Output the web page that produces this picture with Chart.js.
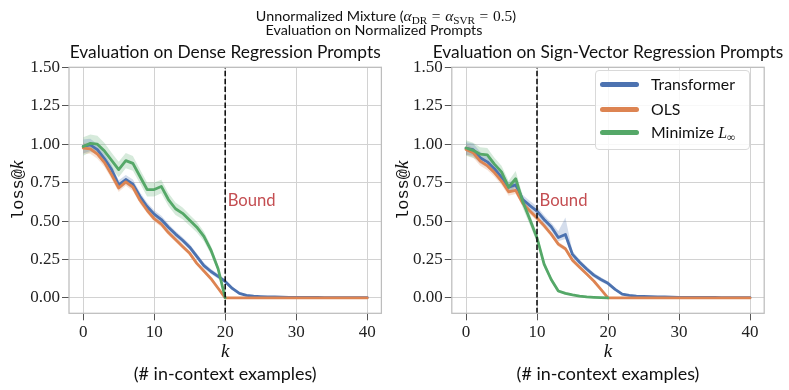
<!DOCTYPE html>
<html>
<head>
<meta charset="utf-8">
<script src="https://cdn.jsdelivr.net/npm/chart.js@4.4.1/dist/chart.umd.min.js"></script>
<style>
  html, body { margin:0; padding:0; background:#ffffff; }
  #wrap { position:relative; width:789px; height:390px; overflow:hidden; background:#fff; }
  canvas { position:absolute; top:0; }
  #c1 { left:0; }
  #c2 { left:394px; }
  .sup { position:absolute; left:0; top:0; white-space:nowrap; font-family:Lato, "DejaVu Sans", sans-serif; color:#111; line-height:1.2; }
  .mi { font-family:"Liberation Serif", serif; font-style:italic; }
  .mr { font-family:"Liberation Serif", serif; }
  .eq { font-family:"Liberation Serif", serif; margin:0 0.3em; }
  sub { font-size:0.72em; vertical-align:-0.28em; line-height:0; }
  .bl { display:inline-block; width:0; height:0; vertical-align:baseline; }
  #legend { position:absolute; left:595px; top:70px; width:155px; height:80px; border:1px solid #d9d9d9; border-radius:4px; background:rgba(255,255,255,0.85); box-sizing:border-box; }
  .sw { position:absolute; left:4px; width:39px; height:5px; border-radius:2.5px; }
  .lt { position:absolute; left:55px; white-space:nowrap; color:#111; font-family:Lato, "DejaVu Sans", sans-serif; line-height:1; }
</style>
</head>
<body>
<div id="wrap">
  <canvas id="c1" width="394" height="390"></canvas>
  <canvas id="c2" width="395" height="390"></canvas>
  <div class="sup" id="sup1">Unnormalized Mixture (<span id="supMath"><span class="mi">α</span><sub class="mr">DR</sub><span class="eq">=</span><span class="mi">α</span><sub class="mr">SVR</sub><span class="eq">=</span><span class="mr">0.5</span></span>)<span class="bl"></span></div>
  <div class="sup" id="sup2">Evaluation on Normalized Prompts<span class="bl"></span></div>
  <div id="legend"></div>
</div>
<script>
// ---------------- data ----------------
const K = [0,1,2,3,4,5,6,7,8,9,10,11,12,13,14,15,16,17,18,19,20,21,22,23,24,25,26,27,28,29,30,31,32,33,34,35,36,37,38,39,40];
const K_MIN = [0,1,2,3,4,5,6,7,8,9,10,11,12,13,14,15,16,17,18,19,20];
const xTicks = [0, 10, 20, 30, 40];
const yTicks = [0, 0.25, 0.5, 0.75, 1.0, 1.25, 1.5];
const seriesNames = ['Transformer', 'OLS', 'Minimize L∞'];

// Dense regression prompts
const denseTransformer = [0.985,0.995,0.965,0.905,0.835,0.735,0.77,0.74,0.66,0.595,
  0.545,0.51,0.46,0.415,0.375,0.33,0.27,0.21,0.172,0.14,
  0.107,0.062,0.03,0.017,0.012,0.009,0.007,0.006,0.005,0.004,
  0.004,0.003,0.003,0.003,0.002,0.002,0.002,0.002,0.002,0.002,0.002];
const denseTransformerErr = [0.045,0.04,0.035,0.032,0.03,0.03,0.03,0.03,0.028,0.026,
  0.025,0.024,0.022,0.021,0.02,0.02,0.019,0.018,0.016,0.015,
  0.014,0.012,0.008,0.005,0.004,0.003,0.002,0.002,0.002,0.001,
  0.001,0.001,0.001,0.001,0.001,0.001,0.001,0.001,0.001,0.001,0.001];
const denseOLS = [0.975,0.97,0.935,0.88,0.8,0.715,0.755,0.72,0.635,0.57,
  0.515,0.48,0.425,0.38,0.335,0.29,0.225,0.175,0.125,0.063,
  0,0,0,0,0,0,0,0,0,0,0,0,0,0,0,0,0,0,0,0,0];
const denseOLSErr = [0.035,0.032,0.03,0.028,0.027,0.026,0.025,0.024,0.022,0.02,
  0.019,0.018,0.017,0.016,0.015,0.014,0.012,0.01,0.008,0.006,
  0,0,0,0,0,0,0,0,0,0,0,0,0,0,0,0,0,0,0,0,0];
const denseMinLinf = [0.985,1.005,1.0,0.955,0.895,0.835,0.893,0.875,0.79,0.705,
  0.705,0.725,0.64,0.58,0.55,0.505,0.46,0.40,0.31,0.19,0.0];
const denseMinLinfErr = [0.06,0.058,0.055,0.052,0.05,0.05,0.05,0.048,0.046,0.045,
  0.045,0.044,0.042,0.04,0.038,0.036,0.035,0.032,0.028,0.02,0];
const denseBound = 20;

// Sign-vector regression prompts
const signTransformer = [0.972,0.965,0.912,0.885,0.84,0.785,0.72,0.735,0.64,0.6,
  0.565,0.51,0.463,0.393,0.413,0.283,0.232,0.188,0.148,0.12,
  0.095,0.056,0.025,0.016,0.012,0.01,0.008,0.007,0.006,0.005,
  0.004,0.004,0.003,0.003,0.003,0.003,0.002,0.002,0.002,0.002,0.002];
const signTransformerErrDown = [0.04,0.04,0.038,0.036,0.035,0.034,0.033,0.032,0.03,0.03,
  0.03,0.028,0.026,0.025,0.03,0.02,0.018,0.016,0.015,0.014,
  0.012,0.01,0.007,0.005,0.004,0.003,0.002,0.002,0.002,0.001,
  0.001,0.001,0.001,0.001,0.001,0.001,0.001,0.001,0.001,0.001,0.001];
const signTransformerErrUp = [0.04,0.04,0.038,0.036,0.035,0.034,0.033,0.032,0.03,0.03,
  0.03,0.028,0.026,0.04,0.11,0.02,0.018,0.016,0.015,0.014,
  0.012,0.01,0.007,0.005,0.004,0.003,0.002,0.002,0.002,0.001,
  0.001,0.001,0.001,0.001,0.001,0.001,0.001,0.001,0.001,0.001,0.001];
const signOLS = [0.965,0.945,0.89,0.86,0.815,0.76,0.69,0.70,0.615,0.565,
  0.52,0.47,0.415,0.35,0.32,0.245,0.2,0.155,0.11,0.056,
  0,0,0,0,0,0,0,0,0,0,0,0,0,0,0,0,0,0,0,0,0];
const signOLSErr = [0.035,0.032,0.03,0.028,0.027,0.026,0.025,0.024,0.022,0.02,
  0.019,0.018,0.017,0.016,0.015,0.014,0.012,0.01,0.008,0.006,
  0,0,0,0,0,0,0,0,0,0,0,0,0,0,0,0,0,0,0,0,0];
const signMinLinf = [0.975,0.96,0.935,0.93,0.87,0.82,0.72,0.775,0.625,0.51,
  0.39,0.22,0.12,0.045,0.03,0.02,0.012,0.007,0.004,0.002,0];
const signMinLinfErr = [0.05,0.05,0.045,0.045,0.042,0.04,0.04,0.05,0.04,0.035,
  0.03,0.02,0.015,0.01,0.008,0.006,0.004,0.003,0.002,0.001,0];
const signBound = 10;

// ---------------- style ----------------
const COLORS = ['#4c72b0', '#dd8452', '#55a868'];
const BOUND_COLOR = '#c44e52';
const GRID = '#d2d2d2';
const FRAME = '#bdbdbd';
const TICK = '#555555';
const SANS = 'Lato, "DejaVu Sans", sans-serif';
const SERIF = '"Liberation Serif", "DejaVu Serif", serif';
const MONO = '"Liberation Mono", "DejaVu Sans Mono", monospace';
const X_MIN = -2, X_MAX = 42, Y_MIN = -0.1, Y_MAX = 1.5;
const PLOT_TOP = 67.3, PLOT_BOTTOM = 313.3, H = 390;

const mctx = document.createElement('canvas').getContext('2d');
function fitSize(text, family, target) {
  mctx.font = '100px ' + family;
  return 100 * target / mctx.measureText(text).width;
}
const TITLE_SIZE = fitSize('Evaluation on Dense Regression Prompts', SANS, 311);
const BOUND_SIZE = fitSize('Bound', SANS, 48);
const XLAB_SIZE = fitSize('(# in-context examples)', SANS, 183);
const LEG_SIZE = fitSize('Transformer', SANS, 84);

function hexA(hex, a) {
  const n = parseInt(hex.slice(1), 16);
  return `rgba(${(n >> 16) & 255},${(n >> 8) & 255},${n & 255},${a})`;
}

function buildDatasets(series, boundK) {
  const ds = [];
  series.forEach((s, si) => {
    const loIdx = ds.length;
    ds.push({ data: s.k.map((k, i) => ({ x: k, y: s.v[i] - s.errDown[i] })), borderColor: 'transparent', borderWidth: 0,
      pointRadius: 0, fill: false, order: 10 + si });
    ds.push({ data: s.k.map((k, i) => ({ x: k, y: s.v[i] + s.errUp[i] })), borderColor: 'transparent', borderWidth: 0,
      pointRadius: 0, fill: { target: loIdx }, backgroundColor: hexA(s.color, 0.24), order: 10 + si });
  });
  series.forEach((s, si) => {
    ds.push({ label: s.name, data: s.k.map((k, i) => ({ x: k, y: s.v[i] })), borderColor: s.color, borderWidth: 2.8,
      pointRadius: 0, fill: false, order: 5 - si, borderJoinStyle: 'round', borderCapStyle: 'round' });
  });
  ds.push({ data: [{ x: boundK, y: Y_MIN }, { x: boundK, y: Y_MAX }], borderColor: '#111111', borderWidth: 1.6,
    borderDash: [5.5, 2.4], pointRadius: 0, fill: false, order: 0 });
  return ds;
}

function decorPlugin(cfg) {
  return {
    id: 'decor',
    afterDraw(chart) {
      const { ctx, chartArea: a, scales: { x, y } } = chart;
      ctx.save();
      ctx.strokeStyle = FRAME; ctx.lineWidth = 1.25;
      ctx.strokeRect(a.left, a.top, a.right - a.left, a.bottom - a.top);
      const cx = (a.left + a.right) / 2;
      // subplot title
      ctx.fillStyle = '#111'; ctx.textAlign = 'center'; ctx.textBaseline = 'alphabetic';
      ctx.font = `${TITLE_SIZE}px ${SANS}`;
      ctx.fillText(cfg.title, cx, 57.5);
      // Bound label
      ctx.fillStyle = BOUND_COLOR; ctx.textAlign = 'left';
      ctx.font = `${BOUND_SIZE}px ${SANS}`;
      ctx.fillText('Bound', x.getPixelForValue(cfg.boundK) + 2.5, y.getPixelForValue(0.6));
      // x label
      ctx.fillStyle = '#111'; ctx.textAlign = 'center';
      ctx.font = `italic 19px ${SERIF}`;
      ctx.fillText('k', cx, 356.5);
      ctx.font = `${XLAB_SIZE}px ${SANS}`;
      ctx.fillText('(# in-context examples)', cx, 380);
      // y label
      ctx.translate(cfg.yLabelX, (a.top + a.bottom) / 2);
      ctx.rotate(-Math.PI / 2);
      ctx.textBaseline = 'middle'; ctx.textAlign = 'left';
      ctx.font = `17px ${MONO}`;
      const w1 = ctx.measureText('loss@').width;
      ctx.font = `italic 19px ${SERIF}`;
      const w2 = ctx.measureText('k').width;
      const x0 = -(w1 + w2) / 2;
      ctx.font = `17px ${MONO}`;
      ctx.fillText('loss@', x0, 0);
      ctx.font = `italic 19px ${SERIF}`;
      ctx.fillText('k', x0 + w1, 0);
      ctx.restore();
    }
  };
}

function makeChart(id, cfg) {
  const gridOpts = { color: GRID, lineWidth: 1, tickColor: TICK, tickLength: 7, drawTicks: true };
  return new Chart(document.getElementById(id), {
    type: 'line',
    data: { datasets: buildDatasets(cfg.series, cfg.boundK) },
    options: {
      responsive: false, animation: false, devicePixelRatio: 1,
      layout: { padding: { top: PLOT_TOP, right: cfg.padRight, left: 0, bottom: 0 } },
      plugins: { legend: { display: false }, tooltip: { enabled: false }, title: { display: false } },
      elements: { line: { tension: 0 } },
      scales: {
        x: {
          type: 'linear', min: X_MIN, max: X_MAX,
          afterBuildTicks: s => { s.ticks = xTicks.map(v => ({ value: v })); },
          afterFit: s => { s.height = H - PLOT_BOTTOM; },
          grid: gridOpts, border: { display: false },
          ticks: { font: { family: SERIF, size: 17 }, color: '#222', padding: 2, maxRotation: 0, callback: v => String(v) }
        },
        y: {
          type: 'linear', min: Y_MIN, max: Y_MAX,
          afterBuildTicks: s => { s.ticks = yTicks.map(v => ({ value: v })); },
          afterFit: s => { s.width = cfg.yAxisWidth; },
          grid: gridOpts, border: { display: false },
          ticks: { font: { family: SERIF, size: 17 }, color: '#222', padding: 2, callback: v => Number(v).toFixed(2) }
        }
      }
    },
    plugins: [decorPlugin(cfg)]
  });
}

makeChart('c1', {
  title: 'Evaluation on Dense Regression Prompts', boundK: denseBound,
  yAxisWidth: 69, padRight: 12.6, yLabelX: 18,
  series: [
    { name: seriesNames[0], color: COLORS[0], k: K, v: denseTransformer, errDown: denseTransformerErr, errUp: denseTransformerErr },
    { name: seriesNames[1], color: COLORS[1], k: K, v: denseOLS, errDown: denseOLSErr, errUp: denseOLSErr },
    { name: seriesNames[2], color: COLORS[2], k: K_MIN, v: denseMinLinf, errDown: denseMinLinfErr, errUp: denseMinLinfErr }
  ]
});
makeChart('c2', {
  title: 'Evaluation on Sign-Vector Regression Prompts', boundK: signBound,
  yAxisWidth: 57.8, padRight: 24.8, yLabelX: 9,
  series: [
    { name: seriesNames[0], color: COLORS[0], k: K, v: signTransformer, errDown: signTransformerErrDown, errUp: signTransformerErrUp },
    { name: seriesNames[1], color: COLORS[1], k: K, v: signOLS, errDown: signOLSErr, errUp: signOLSErr },
    { name: seriesNames[2], color: COLORS[2], k: K_MIN, v: signMinLinf, errDown: signMinLinfErr, errUp: signMinLinfErr }
  ]
});

// ---------------- HTML legend ----------------
const legend = document.getElementById('legend');
const legendLabels = ['Transformer', 'OLS', 'Minimize <span class="mi">L</span><sub class="mr">∞</sub>'];
const rowCenters = [13, 38, 61.5];
legendLabels.forEach((lab, i) => {
  const sw = document.createElement('div');
  sw.className = 'sw'; sw.style.background = COLORS[i]; sw.style.top = (rowCenters[i] - 2.5) + 'px';
  legend.appendChild(sw);
  const t = document.createElement('div');
  t.className = 'lt'; t.innerHTML = lab; t.style.fontSize = LEG_SIZE + 'px';
  legend.appendChild(t);
  const r = t.getBoundingClientRect();
  t.style.top = (rowCenters[i] - r.height / 2) + 'px';
});

// ---------------- suptitle ----------------
const sup1 = document.getElementById('sup1');
const sup2 = document.getElementById('sup2');
sup2.style.fontSize = '100px';
const SUP_SIZE = 100 * 217 / sup2.getBoundingClientRect().width;
sup1.style.fontSize = SUP_SIZE + 'px';
sup2.style.fontSize = SUP_SIZE + 'px';
document.getElementById('supMath').style.fontSize = '1.08em';

function placeSup(el, centerX, baselineY) {
  const r = el.getBoundingClientRect();
  const bl = el.querySelector('.bl').getBoundingClientRect().top - r.top;
  el.style.left = (centerX - r.width / 2) + 'px';
  el.style.top = (baselineY - bl) + 'px';
}
placeSup(sup1, 386, 20.5);
placeSup(sup2, 374, 34.5);
</script>
</body>
</html>
